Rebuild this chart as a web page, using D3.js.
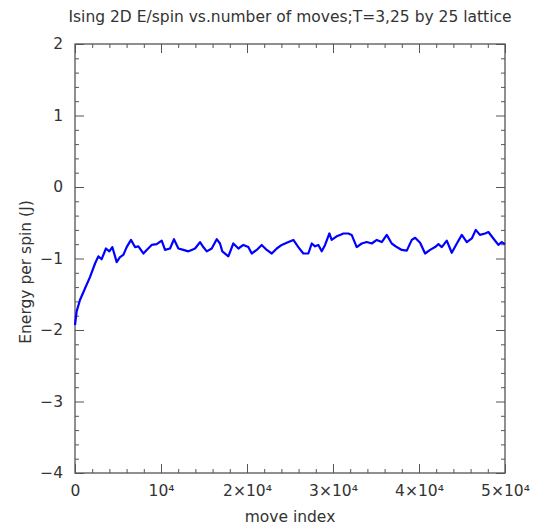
<!DOCTYPE html>
<html>
<head>
<meta charset="utf-8">
<script src="https://cdn.jsdelivr.net/npm/d3@7"></script>
<style>
  body { margin: 0; background: #fff; }
  svg text { font-family: "DejaVu Sans", sans-serif; fill: #333; }
</style>
</head>
<body>
<svg id="chart"></svg>
<script>
// move index vs energy per spin
var moves = [0, 190, 580, 1160, 1740, 2330, 2710, 3100, 3600, 3990, 4340, 4850, 5230, 5620,
  6010, 6510, 6980, 7370, 7950, 8340, 8920, 9500, 10080, 10470, 11050, 11510, 12020, 12600,
  13180, 13570, 13960, 14540, 14920, 15320, 15900, 16480, 16860, 17130, 17830, 18410, 19000,
  19580, 20150, 20550, 21130, 21710, 22300, 22880, 23460, 24040, 24620, 25390, 25970, 26550,
  27130, 27530, 27910, 28300, 28690, 29080, 29580, 29840, 30430, 30820, 31210, 31790, 32170,
  32760, 33340, 33930, 34510, 35090, 35670, 36250, 36830, 37410, 38000, 38580, 39160, 39550,
  40130, 40710, 41290, 41870, 42260, 42650, 43230, 43810, 44400, 44980, 45560, 46140, 46600,
  47080, 47680, 48070, 48650, 49230, 49620, 50000];
var energy = [-1.93, -1.74, -1.58, -1.42, -1.26, -1.07, -0.97, -1.01, -0.86, -0.90, -0.84, -1.05, -0.98, -0.95,
  -0.84, -0.74, -0.84, -0.83, -0.93, -0.88, -0.81, -0.80, -0.75, -0.88, -0.86, -0.73, -0.86, -0.88,
  -0.90, -0.88, -0.86, -0.77, -0.84, -0.90, -0.86, -0.73, -0.79, -0.90, -0.97, -0.79, -0.86,
  -0.81, -0.84, -0.93, -0.88, -0.81, -0.88, -0.93, -0.86, -0.81, -0.78, -0.74, -0.84, -0.93,
  -0.93, -0.79, -0.83, -0.81, -0.90, -0.81, -0.65, -0.74, -0.69, -0.67, -0.65, -0.65, -0.67,
  -0.84, -0.79, -0.77, -0.79, -0.74, -0.77, -0.67, -0.79, -0.84, -0.88, -0.89, -0.74, -0.71,
  -0.78, -0.93, -0.88, -0.84, -0.80, -0.84, -0.75, -0.92, -0.79, -0.67, -0.77, -0.72, -0.60,
  -0.67, -0.65, -0.63, -0.72, -0.81, -0.77, -0.80];

var xTicks = [0, 10000, 20000, 30000, 40000, 50000];
var xTickLabels = ["0", "10\u2074", "2\u00d710\u2074", "3\u00d710\u2074", "4\u00d710\u2074", "5\u00d710\u2074"];
var yTicks = [-4, -3, -2, -1, 0, 1, 2];

var title = "Ising 2D E/spin vs.number of moves;T=3,25 by 25 lattice";
var xTitle = "move index";
var yTitle = "Energy per spin (J)";

var svgWidth = 545, svgHeight = 531;
var margin = { top: 44, right: 40, bottom: 58, left: 75 };
var width = svgWidth - margin.left - margin.right;
var height = svgHeight - margin.top - margin.bottom;
var frameColor = "#555";

var svg = d3.select("#chart")
    .attr("width", svgWidth)
    .attr("height", svgHeight);

var g = svg.append("g")
    .attr("transform", "translate(" + margin.left + "," + margin.top + ")");

var x = d3.scaleLinear().domain([0, 50000]).range([0, width]);
var y = d3.scaleLinear().domain([-4, 2]).range([height, 0]);

var xMinor = d3.range(0, 50001, 2000).filter(function(d) { return d % 10000 != 0; });
var yMinor = d3.range(-40, 21, 2).filter(function(d) { return d % 10 != 0; }).map(function(d) { return d / 10; });

function styleAxis(sel) {
    sel.select(".domain").remove();
    sel.selectAll(".tick line").attr("stroke", frameColor);
    sel.selectAll("text").attr("fill", "#333").style("font-size", "15.5px");
}

// minor ticks, all four sides
g.append("g").attr("transform", "translate(0," + height + ")")
    .call(d3.axisBottom(x).tickValues(xMinor).tickSize(-4).tickFormat("")).call(styleAxis);
g.append("g")
    .call(d3.axisTop(x).tickValues(xMinor).tickSize(-4).tickFormat("")).call(styleAxis);
g.append("g")
    .call(d3.axisLeft(y).tickValues(yMinor).tickSize(-4).tickFormat("")).call(styleAxis);
g.append("g").attr("transform", "translate(" + width + ",0)")
    .call(d3.axisRight(y).tickValues(yMinor).tickSize(-4).tickFormat("")).call(styleAxis);

// major ticks
g.append("g").attr("transform", "translate(0," + height + ")")
    .call(d3.axisBottom(x).tickValues(xTicks).tickSize(-9).tickPadding(12)
        .tickFormat(function(d, i) { return xTickLabels[i]; }))
    .call(styleAxis);
g.append("g")
    .call(d3.axisTop(x).tickValues(xTicks).tickSize(-9).tickFormat("")).call(styleAxis);
g.append("g")
    .call(d3.axisLeft(y).tickValues(yTicks).tickSize(-9).tickPadding(12)
        .tickFormat(function(d) { return d < 0 ? "\u2212" + Math.abs(d) : d; }))
    .call(styleAxis);
g.append("g").attr("transform", "translate(" + width + ",0)")
    .call(d3.axisRight(y).tickValues(yTicks).tickSize(-9).tickFormat("")).call(styleAxis);

// frame
g.append("rect")
    .attr("width", width)
    .attr("height", height)
    .attr("fill", "none")
    .attr("stroke", frameColor)
    .attr("stroke-width", 1.3);

var line = d3.line()
    .x(function(d, i) { return x(moves[i]); })
    .y(function(d) { return y(d); });

g.append("path")
    .datum(energy)
    .attr("fill", "none")
    .attr("stroke", "#0000ff")
    .attr("stroke-width", 2.2)
    .attr("stroke-linejoin", "round")
    .attr("d", line);

svg.append("text")
    .attr("x", margin.left + width / 2)
    .attr("y", 22)
    .attr("text-anchor", "middle")
    .style("font-size", "15.5px")
    .text(title);

svg.append("text")
    .attr("x", margin.left + width / 2)
    .attr("y", 522)
    .attr("text-anchor", "middle")
    .style("font-size", "15.5px")
    .text(xTitle);

svg.append("text")
    .attr("transform", "translate(31,272) rotate(-90)")
    .attr("text-anchor", "middle")
    .style("font-size", "15.5px")
    .text(yTitle);
</script>
</body>
</html>
